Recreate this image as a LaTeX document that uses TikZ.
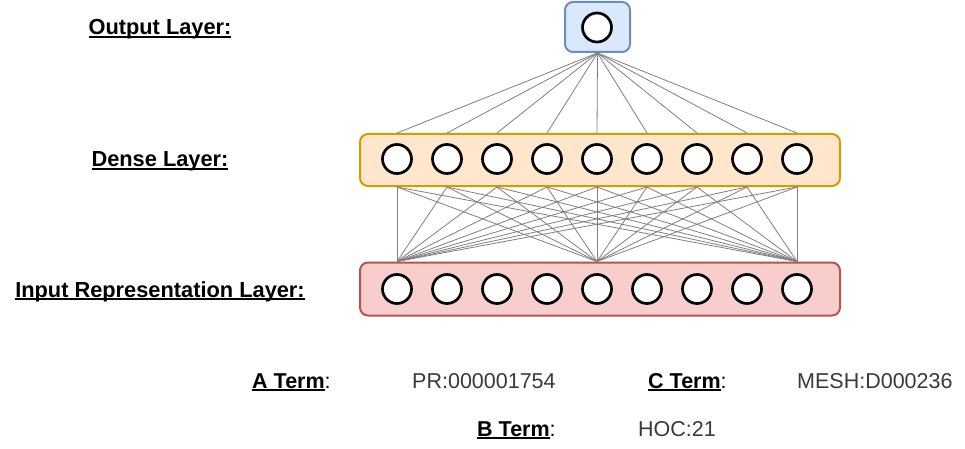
\documentclass[tikz,border=0pt]{standalone}
\usepackage{fontspec}
\setmainfont{Liberation Sans}
\definecolor{oFill}{HTML}{DAE8FC}
\definecolor{oDraw}{HTML}{6C8EBF}
\definecolor{dFill}{HTML}{FFE6CC}
\definecolor{dDraw}{HTML}{D79B00}
\definecolor{iFill}{HTML}{F8CECC}
\definecolor{iDraw}{HTML}{B85450}
\definecolor{wire}{HTML}{808080}
\definecolor{valtext}{HTML}{3A3A3A}
\newcommand\myul[1]{\setbox0\hbox{#1}\rlap{\rule[-3.2pt]{\wd0}{1.8pt}}\box0}
\tikzset{
  layerbox/.style={rectangle, rounded corners=8pt, line width=2pt, inner sep=0pt},
  neuron/.style={circle, draw=black, fill=white, line width=2.7pt, minimum size=29pt, inner sep=0pt},
  wireline/.style={draw=wire, line width=0.8pt},
  lbl/.style={inner sep=0pt, anchor=base, font=\fontsize{21.8}{26}\selectfont\bfseries},
  termlbl/.style={inner sep=0pt, anchor=base west, font=\fontsize{21.5}{26}\selectfont},
  termval/.style={inner sep=0pt, anchor=base west, text=valtext, font=\fontsize{21.5}{26}\selectfont}
}
\begin{document}
\begin{tikzpicture}[x=1pt,y=-1pt]
\useasboundingbox[fill=white] (0,0) rectangle (965,449);
% boxes
\node[layerbox, draw=oDraw, fill=oFill, minimum width=65pt, minimum height=50pt] (obox) at (597.5,27) {};
\node[layerbox, draw=dDraw, fill=dFill, minimum width=480pt, minimum height=52pt] (dbox) at (600,160) {};
\node[layerbox, draw=iDraw, fill=iFill, minimum width=480pt, minimum height=53pt] (ibox) at (600,289) {};
% neurons
\node[neuron] (o) at (597,27.5) {};
\foreach \i in {1,...,9}{
  \node[neuron] (d\i) at ({397+50*(\i-1)},159) {};
  \node[neuron] (n\i) at ({397+50*(\i-1)},289) {};
}
% connectors output -> dense
\foreach \i in {1,...,9}{
  \draw[wireline] (obox.south) -- (dbox.north -| d\i);
}
% connectors dense -> input (input nodes 1, 5, 9)
\foreach \j in {1,5,9}{
  \foreach \i in {1,...,9}{
    \draw[wireline] (dbox.south -| d\i) -- (ibox.north -| n\j);
  }
}
% left labels
\node[lbl] (lo) at (160,35) {\myul{Output Layer:}};
\node[lbl] (ld) at (160,167) {\myul{Dense Layer:}};
\node[lbl] (li) at (160,297) {\myul{Input Representation Layer:}};
% bottom terms
\node[termlbl] (ta) at (252,388) {\myul{\textbf{A Term}}:};
\node[termval] (va) at (412,388) {PR:000001754};
\node[termlbl] (tc) at (648,388) {\myul{\textbf{C Term}}:};
\node[termval] (vc) at (797,388) {MESH:D000236};
\node[termlbl] (tb) at (477,436) {\myul{\textbf{B Term}}:};
\node[termval] (vb) at (638,436) {HOC:21};
\end{tikzpicture}
\end{document}
